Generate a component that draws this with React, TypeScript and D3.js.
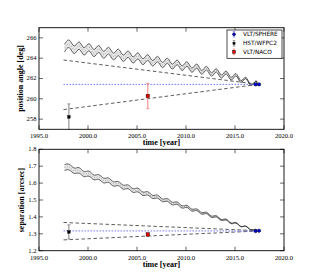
import React from 'react';
import * as d3 from 'd3';

// ---------- data ----------
const xTicks = [1995, 2000, 2005, 2010, 2015, 2020];
const paTicks = [258, 260, 262, 264, 266];
const sepTicks = [1.2, 1.3, 1.4, 1.5, 1.6, 1.7, 1.8];

const modelTimes = [1997.6, 1998.1, 1998.6, 1999.1, 1999.6, 2000.1, 2000.6, 2001.1, 2001.6, 2002.1, 2002.6, 2003.1, 2003.6, 2004.1, 2004.6, 2005.1, 2005.6, 2006.1, 2006.6, 2007.1, 2007.6, 2008.1, 2008.6, 2009.1, 2009.6, 2010.1, 2010.6, 2011.1, 2011.6, 2012.1, 2012.6, 2013.1, 2013.6, 2014.1, 2014.6, 2015.1, 2015.6, 2016.1, 2016.6, 2017.1, 2017.25];

const paCenter = [264.98, 265.40, 264.82, 265.24, 264.66, 265.08, 264.50, 264.91, 264.33, 264.74, 264.16, 264.57, 263.99, 264.40, 263.82, 264.23, 263.65, 264.07, 263.49, 263.91, 263.33, 263.75, 263.17, 263.59, 263.01, 263.43, 262.82, 263.22, 262.61, 263.01, 262.40, 262.80, 262.19, 262.59, 261.98, 262.37, 261.71, 262.05, 261.39, 261.73, 261.50];
const paHalf = [0.38, 0.37, 0.37, 0.36, 0.36, 0.35, 0.35, 0.34, 0.34, 0.33, 0.33, 0.32, 0.31, 0.31, 0.30, 0.30, 0.29, 0.28, 0.27, 0.27, 0.26, 0.25, 0.24, 0.23, 0.23, 0.22, 0.21, 0.20, 0.19, 0.18, 0.17, 0.16, 0.15, 0.14, 0.13, 0.12, 0.09, 0.07, 0.05, 0.03, 0.02];

const sepCenter = [1.692, 1.694, 1.673, 1.675, 1.653, 1.656, 1.634, 1.636, 1.615, 1.617, 1.595, 1.597, 1.576, 1.578, 1.556, 1.559, 1.537, 1.539, 1.518, 1.520, 1.498, 1.500, 1.479, 1.481, 1.459, 1.462, 1.440, 1.442, 1.421, 1.423, 1.401, 1.403, 1.382, 1.384, 1.362, 1.365, 1.343, 1.345, 1.324, 1.326, 1.318];
const sepHalf = [0.017, 0.017, 0.016, 0.016, 0.015, 0.015, 0.014, 0.014, 0.014, 0.013, 0.013, 0.012, 0.012, 0.011, 0.011, 0.011, 0.010, 0.010, 0.009, 0.009, 0.008, 0.008, 0.008, 0.007, 0.007, 0.006, 0.006, 0.005, 0.005, 0.004, 0.004, 0.004, 0.003, 0.003, 0.002, 0.002, 0.001, 0.001, 0.001, 0.000, 0.000];

const boundTimes = [1997.5, 2017.2];
const paUpperBound = [263.82, 261.45];
const paLowerBound = [258.94, 261.40];
const sepUpperBound = [1.367, 1.319];
const sepLowerBound = [1.264, 1.316];

const refTimes = [1997.5, 2017.5];
const paRef = [261.42, 261.42];
const sepRef = [1.317, 1.317];

const instruments = ['VLT/SPHERE', 'HST/WFPC2', 'VLT/NACO'];
const instColors = ['#0000d0', '#000000', '#e00000'];
const instErrColors = ['#8080ff', '#808080', '#ff8080'];
const instMarkers = ['circle', 'square', 'square'];

// observations: instrument index, epoch, value, error
const paObsInst = [1, 2, 0, 0];
const paObsTime = [1998.05, 2006.1, 2017.1, 2017.45];
const paObsVal = [258.22, 260.28, 261.42, 261.42];
const paObsErr = [1.28, 1.25, 0.1, 0.1];

const sepObsInst = [1, 2, 0, 0];
const sepObsTime = [1998.05, 2006.1, 2017.1, 2017.45];
const sepObsVal = [1.311, 1.296, 1.316, 1.318];
const sepObsErr = [0.042, 0.009, 0.003, 0.003];

// ---------- layout ----------
const X0 = 39, X1 = 284;
const serif = '"Liberation Serif", "DejaVu Serif", serif';
const sans = '"DejaVu Sans", sans-serif';

type PanelProps = {
  id: string;
  top: number;
  bottom: number;
  domain: [number, number];
  yTicks: number[];
  yFmt: (v: number) => string;
  center: number[];
  half: number[];
  upper: number[];
  lower: number[];
  ref: number[];
  obsInst: number[];
  obsTime: number[];
  obsVal: number[];
  obsErr: number[];
  yLabel: string;
  yLabelX: number;
  xLabelY: number;
};

function Marker({ kind, cx, cy, color, size }: { kind: string; cx: number; cy: number; color: string; size: number }) {
  if (kind === 'circle') return <circle cx={cx} cy={cy} r={size / 2} fill={color} stroke="#000" strokeWidth={0.4} />;
  return <rect x={cx - size / 2} y={cy - size / 2} width={size} height={size} fill={color} stroke="#000" strokeWidth={0.4} />;
}

function Panel(p: PanelProps) {
  const x = d3.scaleLinear().domain([1995, 2020]).range([X0, X1]);
  const y = d3.scaleLinear().domain(p.domain).range([p.bottom, p.top]);
  const idx = d3.range(modelTimes.length);
  const area = d3.area<number>()
    .x((i) => x(modelTimes[i]))
    .y0((i) => y(p.center[i] - p.half[i]))
    .y1((i) => y(p.center[i] + p.half[i]))
    .curve(d3.curveNatural);
  const lineUp = d3.line<number>().x((i) => x(modelTimes[i])).y((i) => y(p.center[i] + p.half[i])).curve(d3.curveNatural);
  const lineLo = d3.line<number>().x((i) => x(modelTimes[i])).y((i) => y(p.center[i] - p.half[i])).curve(d3.curveNatural);
  const lineC = d3.line<number>().x((i) => x(modelTimes[i])).y((i) => y(p.center[i])).curve(d3.curveNatural);
  const straight = (vals: number[], ts: number[]) =>
    d3.line<number>().x((i) => x(ts[i])).y((i) => y(vals[i]))([0, 1]) as string;
  const clipId = 'clip-' + p.id;
  const tl = 4;
  return (
    <g>
      <defs>
        <clipPath id={clipId}>
          <rect x={X0} y={p.top} width={X1 - X0} height={p.bottom - p.top} />
        </clipPath>
      </defs>
      <rect x={X0} y={p.top} width={X1 - X0} height={p.bottom - p.top} fill="#fff" />
      <g clipPath={`url(#${clipId})`}>
        <path d={area(idx) as string} fill="#e6e6e6" stroke="none" />
        <path d={lineC(idx) as string} fill="none" stroke="#777" strokeWidth={0.7} strokeDasharray="0.8,1.6" />
        <path d={lineUp(idx) as string} fill="none" stroke="#222" strokeWidth={0.7} />
        <path d={lineLo(idx) as string} fill="none" stroke="#222" strokeWidth={0.7} />
        <path d={straight(p.upper, boundTimes)} fill="none" stroke="#333" strokeWidth={0.8} strokeDasharray="3.5,2.5" />
        <path d={straight(p.lower, boundTimes)} fill="none" stroke="#333" strokeWidth={0.8} strokeDasharray="3.5,2.5" />
        <path d={straight(p.ref, refTimes)} fill="none" stroke="#6a6aff" strokeWidth={0.9} strokeDasharray="1.6,1.4" />
        {p.obsTime.map((t, i) => {
          const k = p.obsInst[i];
          const cx = x(t);
          const ya = y(p.obsVal[i] + p.obsErr[i]);
          const yb = y(p.obsVal[i] - p.obsErr[i]);
          return (
            <g key={i}>
              <line x1={cx} x2={cx} y1={ya} y2={yb} stroke={instErrColors[k]} strokeWidth={1} />
              <line x1={cx - 1.6} x2={cx + 1.6} y1={ya} y2={ya} stroke={instErrColors[k]} strokeWidth={0.8} />
              <line x1={cx - 1.6} x2={cx + 1.6} y1={yb} y2={yb} stroke={instErrColors[k]} strokeWidth={0.8} />
              <Marker kind={instMarkers[k]} cx={cx} cy={y(p.obsVal[i])} color={instColors[k]} size={k === 1 ? 2.6 : 3.4} />
            </g>
          );
        })}
      </g>
      <rect x={X0} y={p.top} width={X1 - X0} height={p.bottom - p.top} fill="none" stroke="#000" strokeWidth={0.9} />
      {xTicks.map((t) => (
        <g key={'x' + t}>
          <line x1={x(t)} x2={x(t)} y1={p.bottom} y2={p.bottom - tl} stroke="#000" strokeWidth={0.6} />
          <line x1={x(t)} x2={x(t)} y1={p.top} y2={p.top + tl} stroke="#000" strokeWidth={0.6} />
          <text x={x(t)} y={p.bottom + 9} fontFamily={serif} fontSize={6.6} textAnchor="middle" fill="#000">
            {t.toFixed(1)}
          </text>
        </g>
      ))}
      {p.yTicks.map((v) => (
        <g key={'y' + v}>
          <line x1={X0} x2={X0 + tl} y1={y(v)} y2={y(v)} stroke="#000" strokeWidth={0.6} />
          <line x1={X1} x2={X1 - tl} y1={y(v)} y2={y(v)} stroke="#000" strokeWidth={0.6} />
          <text x={X0 - 2.5} y={y(v) + 1.8} fontFamily={serif} fontSize={6.6} textAnchor="end" fill="#000">
            {p.yFmt(v)}
          </text>
        </g>
      ))}
      <text x={(X0 + X1) / 2} y={p.xLabelY} fontFamily={serif} fontWeight="bold" fontSize={8} textAnchor="middle" fill="#000">
        time [year]
      </text>
      <text
        transform={`translate(${p.yLabelX},${(p.top + p.bottom) / 2}) rotate(-90)`}
        fontFamily={serif}
        fontWeight="bold"
        fontSize={8}
        textAnchor="middle"
        fill="#000"
      >
        {p.yLabel}
      </text>
    </g>
  );
}

function Legend() {
  const lx = 227, ly = 30, lw = 55, lh = 28.3;
  const rows = [34.3, 43.3, 51.9];
  return (
    <g>
      <rect x={lx} y={ly} width={lw} height={lh} fill="#fff" stroke="#000" strokeWidth={0.7} />
      {instruments.map((name, k) => {
        const cy = rows[k];
        const cx = 234;
        return (
          <g key={name}>
            <line x1={cx} x2={cx} y1={cy - 2.8} y2={cy + 2.8} stroke={instErrColors[k]} strokeWidth={0.9} />
            <line x1={cx - 1.2} x2={cx + 1.2} y1={cy - 2.8} y2={cy - 2.8} stroke={instErrColors[k]} strokeWidth={0.7} />
            <line x1={cx - 1.2} x2={cx + 1.2} y1={cy + 2.8} y2={cy + 2.8} stroke={instErrColors[k]} strokeWidth={0.7} />
            <Marker kind={instMarkers[k]} cx={cx} cy={cy} color={instColors[k]} size={k === 1 ? 2.2 : 3} />
            <text x={243} y={cy + 2.1} fontFamily={sans} fontSize={5.8} fill="#000">
              {name}
            </text>
          </g>
        );
      })}
    </g>
  );
}

export default function App() {
  return (
    <svg
      width={315}
      height={280}
      viewBox="0 0 315 280"
      style={{ position: 'absolute', left: 0, top: 0, background: '#fff' }}
    >
      <rect x={0} y={0} width={315} height={280} fill="#fff" />
      <Panel
        id="pa"
        top={27.7}
        bottom={129.3}
        domain={[257, 267]}
        yTicks={paTicks}
        yFmt={(v) => String(v)}
        center={paCenter}
        half={paHalf}
        upper={paUpperBound}
        lower={paLowerBound}
        ref={paRef}
        obsInst={paObsInst}
        obsTime={paObsTime}
        obsVal={paObsVal}
        obsErr={paObsErr}
        yLabel="position angle [deg]"
        yLabelX={22.5}
        xLabelY={145}
      />
      <Legend />
      <Panel
        id="sep"
        top={149.3}
        bottom={250.7}
        domain={[1.2, 1.8]}
        yTicks={sepTicks}
        yFmt={(v) => v.toFixed(1)}
        center={sepCenter}
        half={sepHalf}
        upper={sepUpperBound}
        lower={sepLowerBound}
        ref={sepRef}
        obsInst={sepObsInst}
        obsTime={sepObsTime}
        obsVal={sepObsVal}
        obsErr={sepObsErr}
        yLabel="separation [arcsec]"
        yLabelX={24}
        xLabelY={267}
      />
    </svg>
  );
}
